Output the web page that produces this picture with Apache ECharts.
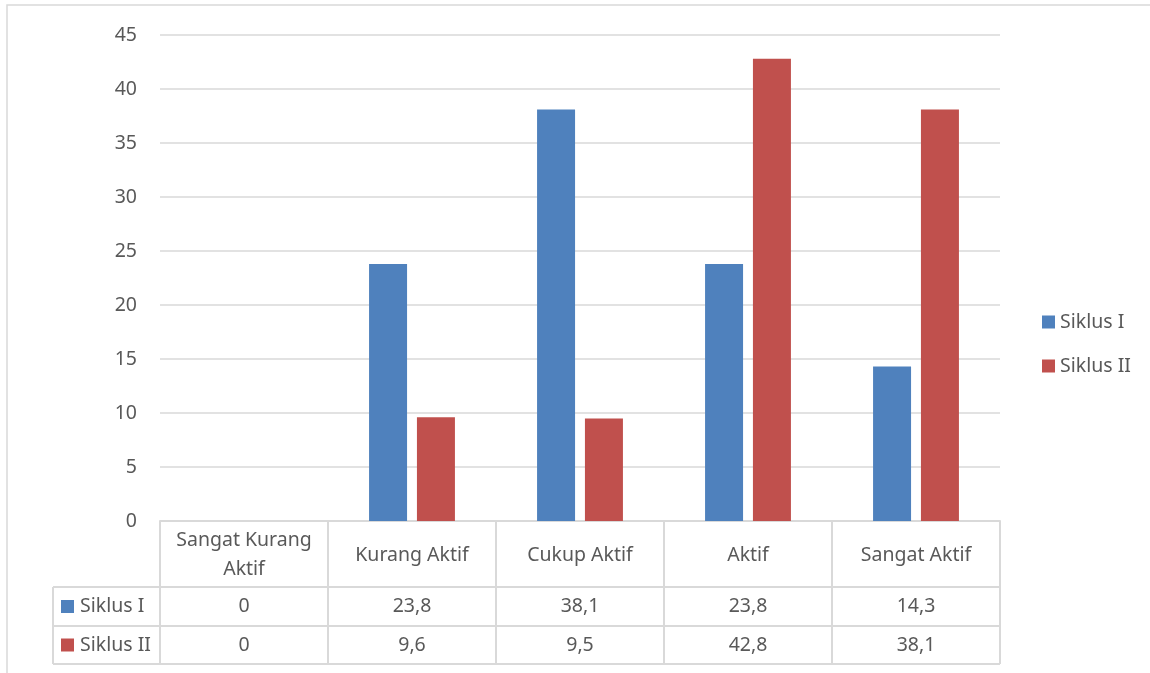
<!DOCTYPE html>
<html>
<head>
<meta charset="utf-8">
<script src="https://cdn.jsdelivr.net/npm/echarts@6/dist/echarts.min.js"></script>
<style>
  html, body { margin: 0; padding: 0; background: #fff; }
  #chart { width: 1150px; height: 673px; }
</style>
</head>
<body>
<div id="chart"></div>
<script>
// Activity level categories and percentages per cycle
const categories = ['Sangat Kurang\nAktif', 'Kurang Aktif', 'Cukup Aktif', 'Aktif', 'Sangat Aktif'];
const seriesNames = ['Siklus I', 'Siklus II'];
const siklus1 = [0, 23.8, 38.1, 23.8, 14.3];
const siklus2 = [0, 9.6, 9.5, 42.8, 38.1];
const yTicks = [0, 5, 10, 15, 20, 25, 30, 35, 40, 45];

const COLORS = ['#4f81bd', '#c0504d'];
const TEXT = '#595959';
const LINE = '#d9d9d9';
const FONT = 'Noto Sans';
const FS = 19.5;

const chart = echarts.init(document.getElementById('chart'), null, { renderer: 'canvas' });

const fmt = v => String(v).replace('.', ',');

chart.setOption({
  animation: false,
  textStyle: { fontFamily: FONT },
  grid: { left: 160, right: 150, top: 35, bottom: 152, containLabel: false },
  legend: {
    orient: 'vertical',
    left: 1037, top: 307,
    itemWidth: 13, itemHeight: 13, itemGap: 24,
    icon: 'rect',
    textStyle: { color: TEXT, fontSize: FS, fontFamily: FONT, padding: [0, 0, 0, 0] },
    data: seriesNames
  },
  xAxis: {
    type: 'category',
    data: categories,
    axisLine: { show: true, lineStyle: { color: LINE, width: 2 } },
    axisTick: { show: false },
    axisLabel: { show: false },
    splitLine: { show: false }
  },
  yAxis: {
    type: 'value',
    min: yTicks[0], max: yTicks[yTicks.length - 1], interval: 5,
    axisLine: { show: false },
    axisTick: { show: false },
    axisLabel: { color: TEXT, fontSize: FS, fontFamily: FONT, margin: 23 },
    splitLine: { lineStyle: { color: LINE, width: 1.5 } }
  },
  series: [
    { name: seriesNames[0], type: 'bar', data: siklus1, barWidth: 38, barGap: '26%',
      itemStyle: { color: COLORS[0] } },
    { name: seriesNames[1], type: 'bar', data: siklus2, barWidth: 38,
      itemStyle: { color: COLORS[1] } }
  ]
});

// Data table underneath the plot: header row with category names, then one row per series
function drawTable() {
  const bounds = [];
  const centers = categories.map((_, i) => chart.convertToPixel({ xAxisIndex: 0 }, i));
  const step = centers.length > 1 ? centers[1] - centers[0] : 168;
  centers.forEach(c => bounds.push(c - step / 2));
  bounds.push(centers[centers.length - 1] + step / 2);

  const yAxis0 = chart.convertToPixel({ yAxisIndex: 0 }, 0);
  const rowTop1 = yAxis0 + 66;
  const rowTop2 = rowTop1 + 39;
  const rowBot = rowTop2 + 38;
  const leftCol = 53;
  const els = [];
  const lineStyle = { stroke: LINE, lineWidth: 2 };

  // outer chart frame
  els.push({ type: 'polyline', shape: { points: [[7, 673], [7, 5], [1150, 5]] },
    style: { stroke: LINE, lineWidth: 1.5, fill: null }, silent: true });

  // vertical lines
  bounds.forEach(x => els.push({ type: 'line', shape: { x1: x, y1: yAxis0, x2: x, y2: rowBot }, style: lineStyle }));
  els.push({ type: 'line', shape: { x1: leftCol, y1: rowTop1, x2: leftCol, y2: rowBot }, style: lineStyle });
  // horizontal lines
  [rowTop1, rowTop2, rowBot].forEach(y => els.push({ type: 'line',
    shape: { x1: leftCol, y1: y, x2: bounds[bounds.length - 1], y2: y }, style: lineStyle }));

  const txt = (x, y, s) => ({ type: 'text', x, y,
    style: { text: s, fill: TEXT, font: FS + 'px "' + FONT + '"', align: 'center', verticalAlign: 'middle', lineHeight: 29 } });

  // header
  centers.forEach((c, i) => els.push(txt(c, (yAxis0 + rowTop1) / 2 + 1, categories[i])));
  // rows
  const rows = [siklus1, siklus2];
  const rowMid = [(rowTop1 + rowTop2) / 2, (rowTop2 + rowBot) / 2];
  rows.forEach((vals, r) => {
    els.push({ type: 'rect', shape: { x: 61, y: rowMid[r] - 6.5, width: 13, height: 13 }, style: { fill: COLORS[r] } });
    els.push({ type: 'text', x: 80, y: rowMid[r],
      style: { text: seriesNames[r], fill: TEXT, font: FS + 'px "' + FONT + '"', align: 'left', verticalAlign: 'middle' } });
    vals.forEach((v, i) => els.push(txt(centers[i], rowMid[r], fmt(v))));
  });

  chart.setOption({ graphic: { elements: els } });
}
drawTable();
</script>
</body>
</html>
